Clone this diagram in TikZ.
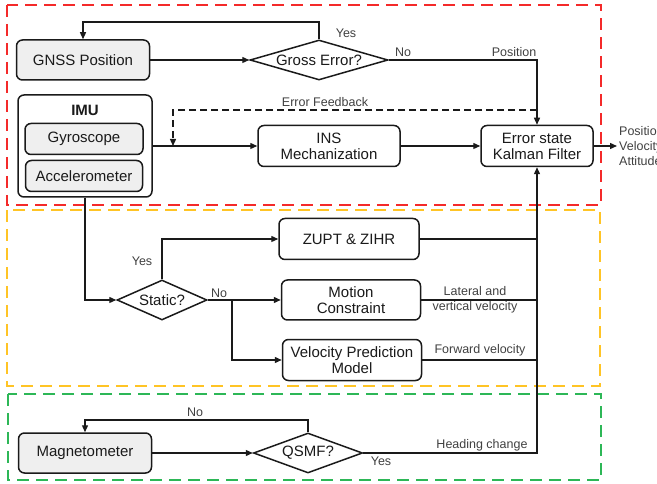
\documentclass[tikz,border=0pt]{standalone}
\usepackage{fontspec}
\setmainfont{Liberation Sans}
\usetikzlibrary{shapes.geometric,arrows.meta}
\definecolor{boxgray}{HTML}{EFEFEF}
\definecolor{txt}{HTML}{1A1A1A}
\definecolor{lbl}{HTML}{404040}
\definecolor{fred}{HTML}{F42A2A}
\definecolor{forange}{HTML}{FFC425}
\definecolor{fgreen}{HTML}{2DB757}
\begin{document}
\begin{tikzpicture}[x=1pt,y=-1pt,
  box/.style={draw=txt, line width=1.5pt, rounded corners=6pt, align=center, inner sep=0pt,
    font=\fontsize{15}{16}\selectfont, text=txt, fill=white},
  graybox/.style={box, fill=boxgray},
  dia/.style={diamond, draw=txt, line width=1.5pt, inner sep=0pt, fill=white},
  dtext/.style={font=\fontsize{15}{16}\selectfont, text=txt},
  lab/.style={font=\fontsize{12.5}{15}\selectfont, text=lbl, align=center, inner sep=0pt},
  conn/.style={draw=txt, line width=1.3pt},
  arr/.style={conn, -{Triangle[length=7pt,width=6pt]}},
  frame/.style={line width=2pt, dash pattern=on 12pt off 7pt},
  fb/.style={dash pattern=on 7pt off 4pt}
]
\useasboundingbox (0,0) rectangle (657,484);

% frames
\draw[frame, fred] (7,5) rectangle (601,205);
\draw[frame, forange] (7,210) rectangle (600,386);
\draw[frame, fgreen] (8,394) rectangle (601,480);

% nodes
\node[graybox, minimum width=133pt, minimum height=40pt] (gnss) at (83,60) {GNSS Position};
\node[dia, minimum width=138pt, minimum height=40pt] (ge) at (319,60) {};
\node[dtext] (getxt) at (ge) {Gross Error?};

\node[box, minimum width=134pt, minimum height=102pt] (imu) at (85,146) {};
\node[dtext, font=\fontsize{15}{16}\selectfont\bfseries] (imutxt) at (85,110) {IMU};
\node[graybox, minimum width=118pt, minimum height=31pt] (gyro) at (84,139) {Gyroscope};
\node[graybox, minimum width=117pt, minimum height=31pt] (acc) at (84,176) {Accelerometer};

\node[box, minimum width=142pt, minimum height=41pt] (ins) at (329,146) {INS\\Mechanization};
\node[box, minimum width=112pt, minimum height=41pt] (kf) at (537,146) {Error state\\Kalman Filter};

\node[dia, minimum width=90pt, minimum height=40pt] (st) at (162,300) {};
\node[dtext] (sttxt) at (st) {Static?};

\node[box, minimum width=140pt, minimum height=41pt] (zupt) at (349,239) {ZUPT \& ZIHR};
\node[box, minimum width=139pt, minimum height=40pt] (mc) at (351,300) {Motion\\Constraint};
\node[box, minimum width=139pt, minimum height=41pt] (vp) at (352,360) {Velocity Prediction\\Model};

\node[graybox, minimum width=133pt, minimum height=40pt] (mag) at (85,453) {Magnetometer};
\node[dia, minimum width=109pt, minimum height=40pt] (qs) at (308,453) {};
\node[dtext] (qstxt) at (qs) {QSMF?};

% coordinates
\coordinate (yesTop) at (83,22);
\coordinate (fbR) at (537,110);
\coordinate (fbL) at (173,110);
\coordinate (out) at (617,146);
\coordinate (br) at (232,300);
\coordinate (noTop) at (85,420);

% connectors
\draw[arr] (ge.north) |- (yesTop) -- (gnss.north);
\draw[arr] (gnss.east) -- (ge.west);
\draw[arr] (ge.east) -| (kf.north);
\draw[conn, fb, -{Triangle[length=7pt,width=6pt]}] (fbR) -- (fbL) -- (fbL |- imu.east);
\draw[arr] (imu.east) -- (ins.west);
\draw[arr] (ins.east) -- (kf.west);
\draw[arr] (kf.east) -- (out);

\draw[arr] (imu.south) |- (st.west);
\draw[arr] (st.north) |- (zupt.west);
\draw[arr] (st.east) -- (mc.west);
\draw[arr] (br) |- (vp.west);
\draw[conn] (zupt.east) -- (zupt.east -| kf.south);
\draw[conn] (mc.east) -- (mc.east -| kf.south);
\draw[conn] (vp.east) -- (vp.east -| kf.south);

\draw[arr] (mag.east) -- (qs.west);
\draw[arr] (qs.north) |- (noTop) -- (mag.north);
\draw[arr] (qs.east) -| (kf.south);

% labels
\node[lab] (lyes1) at (346,33) {Yes};
\node[lab] (lno1) at (403,52) {No};
\node[lab] (lpos) at (514,52) {Position};
\node[lab] (lfb) at (325,102) {Error Feedback};
\node[lab, anchor=west, align=left] (lout) at (619,146) {Position\\Velocity\\Attitude};
\node[lab] (lyes2) at (142,261) {Yes};
\node[lab] (lno2) at (219,293) {No};
\node[lab] (llat) at (475,300) {Lateral and\\vertical velocity};
\node[lab] (lfwd) at (480,350) {Forward velocity};
\node[lab] (lno3) at (195,412) {No};
\node[lab] (lyes3) at (381,461) {Yes};
\node[lab] (lhead) at (482,445) {Heading change};
\end{tikzpicture}
\end{document}
